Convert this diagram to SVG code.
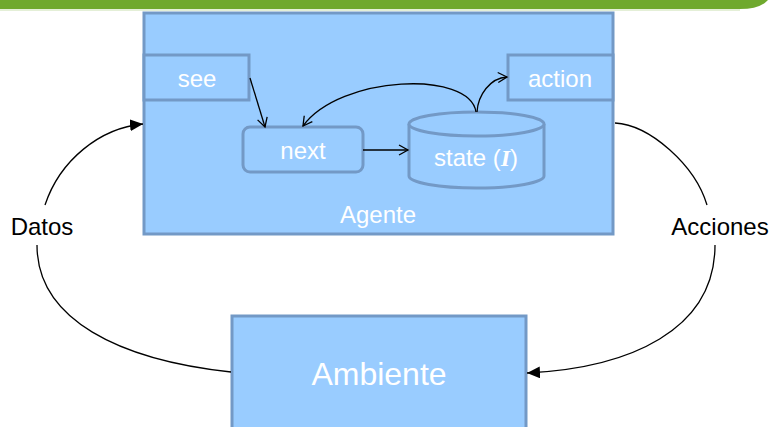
<svg xmlns="http://www.w3.org/2000/svg" width="770" height="427" viewBox="0 0 770 427">
<defs>
<style>
.box{fill:#99ccff;stroke:#7399c6;stroke-width:3}
.lbl{font-family:"Liberation Sans",Arial,sans-serif;fill:#ffffff;text-anchor:middle;font-size:24px}
.big{font-size:32px}
.ext{font-family:"Liberation Sans",Arial,sans-serif;fill:#000000;text-anchor:middle;font-size:24px}
.c{fill:none;stroke:#000;stroke-width:1.3}
</style>
<marker id="open" markerWidth="12" markerHeight="12" refX="10" refY="6" orient="auto" markerUnits="userSpaceOnUse">
<path d="M1,1 L10,6 L1,11" fill="none" stroke="#000" stroke-width="1.3"/>
</marker>
<marker id="fill" markerWidth="14" markerHeight="12" refX="13" refY="6" orient="auto" markerUnits="userSpaceOnUse">
<path d="M0,0 L13,6 L0,12 z" fill="#000"/>
</marker>
</defs>
<rect width="770" height="427" fill="#ffffff"/>
<path d="M0,0 H768 Q760,9 740,9 H0 Z" fill="#6fa92e"/>
<line x1="0" y1="10" x2="740" y2="10" stroke="#c9e0b0" stroke-width="1"/>
<g id="agente">
<rect class="box" x="144" y="13" width="469" height="221"/>
<text class="lbl" x="378" y="223">Agente</text>
</g>
<g id="see">
<rect class="box" x="144" y="55" width="105" height="45"/>
<text class="lbl" x="197" y="87">see</text>
</g>
<g id="action">
<rect class="box" x="508" y="55" width="105" height="45"/>
<text class="lbl" x="560" y="87">action</text>
</g>
<g id="next">
<rect class="box" x="243" y="127" width="120" height="45" rx="7"/>
<text class="lbl" x="303" y="159">next</text>
</g>
<g id="state">
<path class="box" d="M409,124 V176 A67.5,12 0 0 0 544,176 V124"/>
<ellipse class="box" cx="476.5" cy="124" rx="67.5" ry="12"/>
<text class="lbl" x="476" y="166">state (<tspan font-family="Liberation Serif,serif" font-style="italic" font-weight="bold">I</tspan>)</text>
</g>
<g id="ambiente">
<rect class="box" x="232" y="316" width="294" height="120"/>
<text class="lbl big" x="379" y="385">Ambiente</text>
</g>
<g id="labels">
<text class="ext" x="42" y="235">Datos</text>
<text class="ext" x="720" y="235">Acciones</text>
</g>
<g id="connectors">
<path class="c" d="M250,78 L265,127" marker-end="url(#open)"/>
<path class="c" d="M363,150 H408" marker-end="url(#open)"/>
<path class="c" d="M476,112 C470,70 340,75 303,126" marker-end="url(#open)"/>
<path class="c" d="M477,112 C478,95 490,78 507,77" marker-end="url(#open)"/>
<path class="c" d="M45,205 C60,160 100,128 143,124" marker-end="url(#fill)"/>
<path class="c" d="M37,245 C37,320 120,360 231,372"/>
<path class="c" d="M615,123 C650,125 695,165 707,205"/>
<path class="c" d="M715,245 C715,330 630,368 527,373" marker-end="url(#fill)"/>
</g>
</svg>
